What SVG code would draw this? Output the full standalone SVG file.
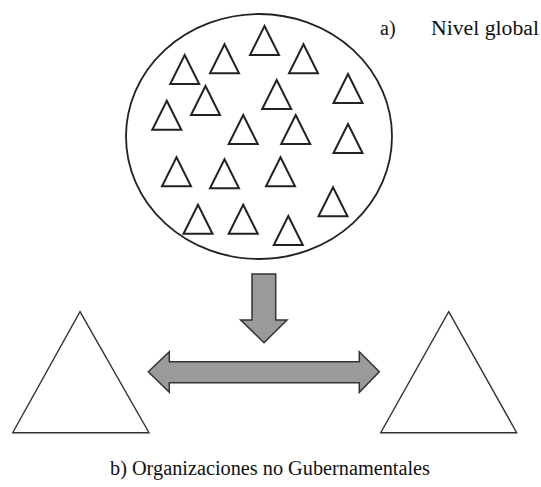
<svg xmlns="http://www.w3.org/2000/svg" xmlns:xlink="http://www.w3.org/1999/xlink" width="541" height="487" viewBox="0 0 541 487">
<style>
.tri{fill:#fff;stroke:#222;stroke-width:2;stroke-linejoin:miter}
.big{fill:#fff;stroke:#333;stroke-width:1.4}
.arr{fill:#9a9a9a;stroke:#333;stroke-width:1.5;stroke-linejoin:miter}
text{font-family:"Times New Roman","Liberation Serif","DejaVu Serif",serif;fill:#111}
</style>
<defs>
<path id="t" d="M0,0 L14.5,29 L-14.5,29 Z"/>
</defs>
<rect width="541" height="487" fill="#fff"/>
<g id="global">
<ellipse cx="259" cy="136.5" rx="133" ry="122.5" fill="#fff" stroke="#222" stroke-width="1.8"/>
<use xlink:href="#t" class="tri" x="264.5" y="26"/>
<use xlink:href="#t" class="tri" x="224.5" y="44.3"/>
<use xlink:href="#t" class="tri" x="303.5" y="44.3"/>
<use xlink:href="#t" class="tri" x="184.7" y="55"/>
<use xlink:href="#t" class="tri" x="348" y="74"/>
<use xlink:href="#t" class="tri" x="205.5" y="86"/>
<use xlink:href="#t" class="tri" x="276.7" y="80"/>
<use xlink:href="#t" class="tri" x="166.8" y="100.7"/>
<use xlink:href="#t" class="tri" x="243.2" y="115"/>
<use xlink:href="#t" class="tri" x="295.7" y="115"/>
<use xlink:href="#t" class="tri" x="348" y="124"/>
<use xlink:href="#t" class="tri" x="176.5" y="157.3"/>
<use xlink:href="#t" class="tri" x="224.5" y="159.3"/>
<use xlink:href="#t" class="tri" x="280.5" y="157.3"/>
<use xlink:href="#t" class="tri" x="333" y="187.3"/>
<use xlink:href="#t" class="tri" x="198" y="204.7"/>
<use xlink:href="#t" class="tri" x="243.2" y="204.7"/>
<use xlink:href="#t" class="tri" x="288.3" y="216"/>
</g>
<g id="ong-left">
<path class="big" d="M80,311.7 L149,432.7 L12.7,432.7 Z"/>
</g>
<g id="ong-right">
<path class="big" d="M448.7,311.7 L516.7,432.7 L380.7,432.7 Z"/>
</g>
<g id="connectors">
<path class="arr" d="M252,274 L275.7,274 L275.7,320 L287,320 L264,342.7 L240.7,320 L252,320 Z"/>
<path class="arr" d="M148.3,371.7 L169.3,351.7 L169.3,361.7 L359.3,361.7 L359.3,351.7 L379.3,371.7 L359.3,392.3 L359.3,382.7 L169.3,382.7 L169.3,392.3 Z"/>
</g>
<g id="labels">
<text x="380" y="35" font-size="20">a)</text>
<text x="431" y="35" font-size="20" textLength="108" lengthAdjust="spacingAndGlyphs">Nivel global</text>
<text x="110" y="475" font-size="20" textLength="320" lengthAdjust="spacingAndGlyphs">b) Organizaciones no Gubernamentales</text>
</g>
</svg>
